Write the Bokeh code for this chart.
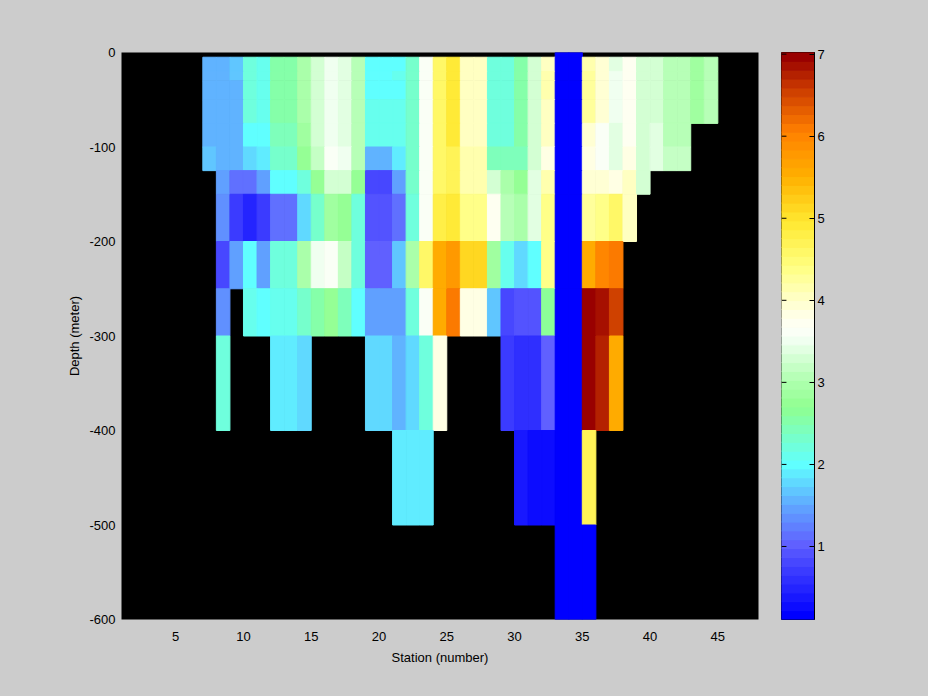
import numpy as np
from bokeh.plotting import figure
from bokeh.models import ColumnDataSource, LinearColorMapper, FixedTicker, Range1d
from bokeh.layouts import row
from bokeh.transform import transform
from bokeh.embed import file_html
from bokeh.resources import INLINE

nan = float("nan")

# ---------------- data ----------------
# each column is one station wide, left edges 7..44
station_left = list(range(7, 45))
# depth layers (m)
layer_top = [0, -5, -20, -30, -50, -75, -100, -125, -150, -200, -250, -300, -400, -500]
layer_bottom = [-5, -20, -30, -50, -75, -100, -125, -150, -200, -250, -300, -400, -500, -600]

# values per layer, stations 7..44
v_000_005 = [nan] * 26 + [0.11, 0.11] + [nan] * 10
v_005_020 = [1.55, 1.55, 1.64, 2.17, 2.09, 2.55, 2.55, 2.95, 3.33, 3.51, 3.39, 3.09,
             2.02, 2.02, 2.02, 2.35, 3.65, 4.55, 4.88, 4.06, 4.06, 2.20, 2.20, 2.55, 3.27, 4.01,
             0.11, 0.11, 4.20, 3.92, 3.45, 3.75, 3.27, 3.27, 3.09, 3.09, 2.83, 3.09]
v_020_030 = [1.55, 1.55, 1.64, 2.17, 2.09, 2.55, 2.55, 2.95, 3.33, 3.51, 3.39, 3.09,
             2.02, 2.02, 2.10, 2.35, 3.65, 4.55, 4.96, 4.06, 4.06, 2.20, 2.20, 2.55, 3.27, 4.15,
             0.11, 0.11, 4.24, 3.97, 3.54, 3.70, 3.27, 3.27, 3.09, 3.09, 2.83, 3.09]
v_030_050 = [1.55, 1.55, 1.55, 2.17, 2.09, 2.55, 2.55, 2.95, 3.33, 3.51, 3.39, 3.09,
             2.02, 2.02, 2.02, 2.35, 3.65, 4.55, 4.96, 4.06, 4.06, 2.20, 2.20, 2.55, 3.27, 4.15,
             0.11, 0.11, 4.24, 3.97, 3.54, 3.70, 3.27, 3.27, 3.09, 3.09, 2.83, 3.09]
v_050_075 = [1.55, 1.55, 1.55, 2.17, 2.09, 2.55, 2.55, 2.95, 3.33, 3.51, 3.39, 3.09,
             2.15, 2.15, 2.15, 2.35, 3.65, 4.55, 4.96, 4.06, 4.06, 2.20, 2.20, 2.55, 3.27, 4.10,
             0.11, 0.11, 4.24, 3.97, 3.54, 3.70, 3.27, 3.27, 3.09, 3.09, 2.83, 3.09]
v_075_100 = [1.55, 1.55, 1.55, 2.05, 2.05, 2.40, 2.40, 2.86, 3.33, 3.51, 3.39, 3.09,
             2.15, 2.15, 2.15, 2.35, 3.57, 4.55, 4.88, 4.06, 4.06, 2.20, 2.20, 2.55, 3.27, 4.10,
             0.11, 0.11, 3.97, 3.62, 3.40, 3.70, 3.27, 3.39, 3.09, 3.09, nan, nan]
v_100_125 = [1.69, 1.55, 1.55, 1.75, 1.87, 2.33, 2.33, 2.78, 3.21, 3.57, 3.51, 3.03,
             1.52, 1.52, 1.87, 2.35, 3.57, 4.55, 4.68, 4.15, 4.15, 2.42, 2.42, 2.45, 3.27, 3.88,
             0.11, 0.11, 3.82, 3.58, 3.40, 3.82, 3.27, 3.39, 3.21, 3.21, nan, nan]
v_125_150 = [nan, 1.42, 1.14, 1.14, 1.50, 2.00, 2.00, 2.20, 2.78, 3.33, 3.33, 2.78,
             0.80, 0.80, 1.46, 2.35, 3.57, 4.55, 4.68, 4.19, 4.19, 3.27, 2.95, 2.78, 3.39, 4.15,
             0.11, 0.11, 3.97, 3.97, 3.82, 4.06, 3.27, nan, nan, nan, nan, nan]
v_150_200 = [nan, 1.32, 0.65, 0.49, 0.72, 1.14, 1.14, 1.78, 2.35, 2.86, 2.78, 2.25,
             0.95, 0.95, 1.14, 2.20, 3.57, 4.80, 4.88, 4.42, 4.42, 3.75, 3.03, 2.95, 3.39, 4.42,
             0.11, 0.11, 4.28, 4.37, 4.60, 4.06, nan, nan, nan, nan, nan, nan]
v_200_250 = [nan, 0.80, 1.46, 1.95, 1.50, 2.25, 2.25, 2.95, 3.51, 3.57, 3.21, 2.25,
             1.05, 1.03, 1.69, 2.95, 4.55, 5.51, 5.78, 5.08, 5.08, 2.86, 2.15, 1.78, 2.02, 4.33,
             0.11, 0.11, 5.60, 5.97, 6.06, nan, nan, nan, nan, nan, nan, nan]
v_250_300 = [nan, 1.30, nan, 2.15, 2.03, 2.10, 2.10, 2.28, 2.55, 2.72, 2.40, 2.00,
             1.46, 1.46, 1.46, 2.25, 3.57, 5.51, 6.06, 3.82, 3.82, 1.69, 0.80, 0.95, 0.95, 2.65,
             0.11, 0.11, 6.99, 6.90, 6.50, nan, nan, nan, nan, nan, nan, nan]
v_300_400 = [nan, 2.20, nan, nan, nan, 1.93, 1.93, 1.82, nan, nan, nan, nan,
             1.82, 1.82, 1.55, 1.78, 2.20, 3.82, nan, nan, nan, nan, 0.68, 0.55, 0.55, 1.03,
             0.11, 0.11, 6.99, 6.80, 5.51, nan, nan, nan, nan, nan, nan, nan]
v_400_500 = [nan] * 12 + [nan, nan, 1.93, 1.93, 1.93, nan, nan, nan, nan, nan, nan, 0.42, 0.23, 0.23] + \
            [0.11, 0.11, 4.68] + [nan] * 9
v_500_600 = [nan] * 26 + [0.11, 0.11, 0.11] + [nan] * 9

layers = [v_000_005, v_005_020, v_020_030, v_030_050, v_050_075, v_075_100, v_100_125,
          v_125_150, v_150_200, v_200_250, v_250_300, v_300_400, v_400_500, v_500_600]

x_ticks = [5, 10, 15, 20, 25, 30, 35, 40, 45]
y_ticks = [-600, -500, -400, -300, -200, -100, 0]
y_tick_labels = ["-600", "-500", "-400", "-300", "-200", "-100", "0"]
cb_ticks = [1, 2, 3, 4, 5, 6, 7]
clim_low, clim_high = 0.11, 7.02

# colormap anchors (style)
cmap_values = [0.16, 0.75, 1.03, 1.46, 2.00, 2.70, 3.03, 3.57, 3.75, 3.97, 4.42, 4.96, 5.51, 6.06, 6.60, 6.96]
cmap_colors = ["#0000ff", "#4040ff", "#6060ff", "#60a0ff", "#60ffff", "#90ff90", "#b0ffb0", "#f8fff8",
               "#fffff0", "#ffffd0", "#ffff80", "#ffe830", "#ffb000", "#ff8000", "#c83800", "#990000"]
n_levels = 64

# ---------------- palette ----------------
def hex2rgb(h):
    return [int(h[i:i + 2], 16) for i in (1, 3, 5)]

rgb = np.array([hex2rgb(c) for c in cmap_colors], dtype=float)
level_edges = np.linspace(clim_low, clim_high, n_levels + 1)
centers = 0.5 * (level_edges[:-1] + level_edges[1:])
palette = []
for c in centers:
    r, g, b = (int(round(np.interp(c, cmap_values, rgb[:, k]))) for k in range(3))
    palette.append("#%02x%02x%02x" % (r, g, b))

mapper = LinearColorMapper(palette=palette, low=clim_low, high=clim_high)

# ---------------- cells ----------------
left, right, top, bottom, val = [], [], [], [], []
for vals, t, b in zip(layers, layer_top, layer_bottom):
    for s, v in zip(station_left, vals):
        if not np.isnan(v):
            left.append(s)
            right.append(s + 1)
            top.append(t)
            bottom.append(b)
            val.append(v)
src = ColumnDataSource(dict(left=left, right=right, top=top, bottom=bottom, val=val))

FONT = "Liberation Sans"
FS = "13px"
BG = "#cccccc"

p = figure(width=770, height=696, x_range=Range1d(1, 48), y_range=Range1d(-600, 0),
           output_backend="svg", toolbar_location=None,
           min_border_left=121, min_border_right=12, min_border_top=52, min_border_bottom=77)
p.background_fill_color = "black"
p.border_fill_color = BG
p.outline_line_color = None
p.grid.visible = False

p.quad(left="left", right="right", top="top", bottom="bottom", source=src,
       fill_color=transform("val", mapper), line_color=transform("val", mapper), line_width=1)

p.xaxis.ticker = FixedTicker(ticks=x_ticks)
p.yaxis.ticker = FixedTicker(ticks=y_ticks)
p.yaxis.major_label_overrides = {t: l for t, l in zip(y_ticks, y_tick_labels)}
p.xaxis.axis_label = "Station (number)"
p.yaxis.axis_label = "Depth (meter)"
for ax in (p.xaxis[0], p.yaxis[0]):
    ax.major_tick_in = 0
    ax.major_tick_out = 0
    ax.minor_tick_in = 0
    ax.minor_tick_out = 0
    ax.axis_line_color = None
    ax.major_label_text_font = FONT
    ax.major_label_text_font_size = FS
    ax.major_label_text_color = "black"
    ax.axis_label_text_font = FONT
    ax.axis_label_text_font_size = FS
    ax.axis_label_text_font_style = "normal"
    ax.axis_label_text_color = "black"
p.xaxis.major_label_standoff = 12
p.xaxis.axis_label_standoff = 6
p.yaxis.major_label_standoff = 6
p.yaxis.axis_label_standoff = 4

# ---------------- colorbar ----------------
cb = figure(width=158, height=696, x_range=Range1d(0, 1), y_range=Range1d(clim_low, clim_high),
            output_backend="svg", toolbar_location=None, x_axis_location=None, y_axis_location="right",
            min_border_left=11, min_border_right=114, min_border_top=52, min_border_bottom=76)
cb.border_fill_color = BG
cb.background_fill_color = BG
cb.outline_line_color = "black"
cb.grid.visible = False
cb.quad(left=0, right=1, bottom=level_edges[:-1], top=level_edges[1:],
        fill_color=palette, line_color=palette, line_width=1)
# inner tick marks on the left edge of the bar
cb.segment(x0=0, x1=0.15, y0=cb_ticks, y1=cb_ticks, line_color="black", line_width=1)

ax = cb.yaxis[0]
ax.ticker = FixedTicker(ticks=cb_ticks)
ax.major_tick_in = 5
ax.major_tick_out = 0
ax.minor_tick_in = 0
ax.minor_tick_out = 0
ax.axis_line_color = "black"
ax.major_tick_line_color = "black"
ax.major_label_text_font = FONT
ax.major_label_text_font_size = FS
ax.major_label_text_color = "black"
ax.major_label_standoff = 3

layout = row(p, cb, styles={"background-color": BG})
open("out.html", "w").write(file_html(layout, INLINE))
